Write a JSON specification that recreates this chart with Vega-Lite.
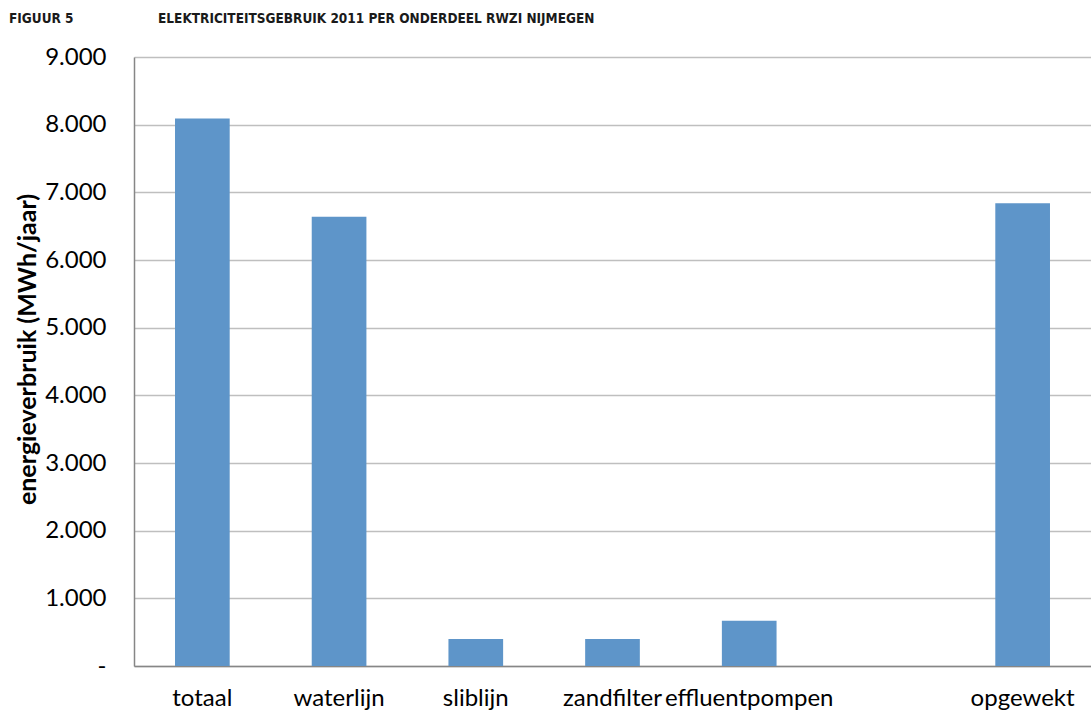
{
  "$schema": "https://vega.github.io/schema/vega-lite/v6.json",
  "autosize": {"type": "none"},
  "width": 957,
  "height": 609,
  "padding": {"left": 134, "top": 57, "right": 0, "bottom": 47},
  "background": "white",
  "title": {
    "text": "FIGUUR 5\u00a0\u00a0\u00a0\u00a0\u00a0\u00a0\u00a0\u00a0\u00a0\u00a0\u00a0\u00a0\u00a0\u00a0\u00a0\u00a0\u00a0\u00a0\u00a0\u00a0ELEKTRICITEITSGEBRUIK 2011 PER ONDERDEEL RWZI NIJMEGEN",
    "anchor": "start",
    "frame": "group",
    "orient": "top",
    "font": "DejaVu Sans Condensed",
    "fontSize": 13.5,
    "fontWeight": "bold",
    "color": "#1A1A1A",
    "baseline": "alphabetic",
    "dx": -125,
    "offset": 9
  },
  "data": {
    "values": [
      {"onderdeel": "totaal", "verbruik": 8090},
      {"onderdeel": "waterlijn", "verbruik": 6640},
      {"onderdeel": "sliblijn", "verbruik": 400},
      {"onderdeel": "zandfilter", "verbruik": 400},
      {"onderdeel": "effluentpompen", "verbruik": 670},
      {"onderdeel": "opgewekt", "verbruik": 6840}
    ]
  },
  "mark": {"type": "bar", "color": "#5E95C9"},
  "encoding": {
    "x": {
      "field": "onderdeel",
      "type": "nominal",
      "sort": null,
      "scale": {
        "domain": ["totaal", "waterlijn", "sliblijn", "zandfilter", "effluentpompen", " ", "opgewekt"],
        "paddingInner": 0.6,
        "paddingOuter": 0.3
      },
      "axis": {
        "title": null,
        "labelAngle": 0,
        "labelFont": "Lato",
        "labelFontSize": 24,
        "labelColor": "#000000",
        "labelPadding": 20,
        "labelOverlap": false,
        "ticks": false,
        "domainColor": "#868686",
        "domainWidth": 1.5,
        "grid": false
      }
    },
    "y": {
      "field": "verbruik",
      "type": "quantitative",
      "scale": {"domain": [0, 9000], "nice": false},
      "axis": {
        "title": "energieverbruik (MWh/jaar)",
        "titleFont": "Lato",
        "titleFontSize": 25,
        "titleFontWeight": "bold",
        "titleColor": "#000000",
        "titlePadding": 4,
        "titleY": 292,
        "values": [0, 1000, 2000, 3000, 4000, 5000, 6000, 7000, 8000, 9000],
        "labelExpr": "datum.value === 0 ? '-' : replace(format(datum.value, ','), ',', '.')",
        "labelFont": "Lato",
        "labelFontSize": 24,
        "labelColor": "#000000",
        "labelPadding": 28,
        "ticks": false,
        "domainColor": "#868686",
        "domainWidth": 1.5,
        "grid": true,
        "gridColor": "#BFBFBF",
        "gridWidth": 1.5
      }
    }
  },
  "config": {
    "view": {"stroke": null}
  }
}
